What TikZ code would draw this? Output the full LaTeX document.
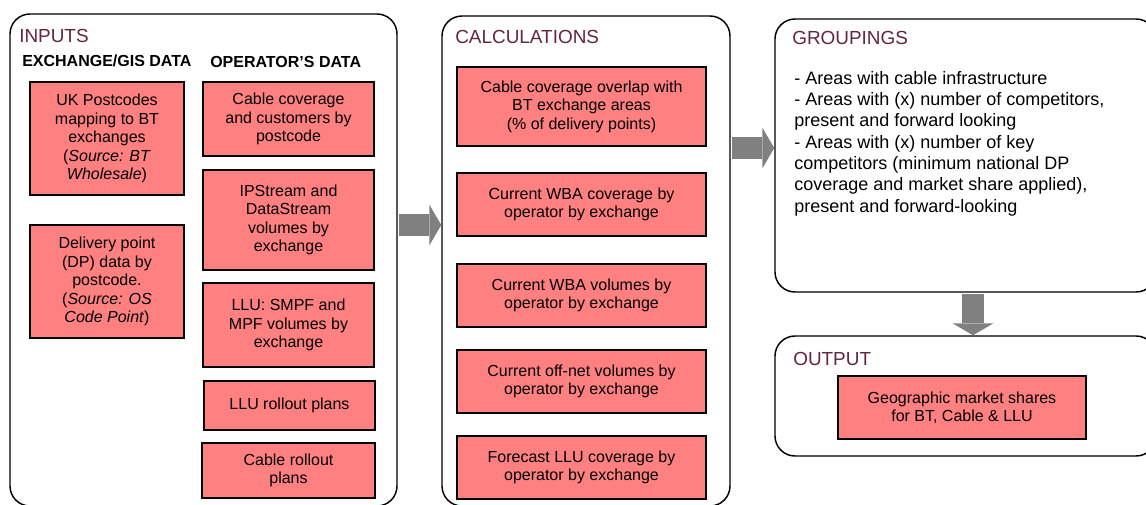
\documentclass[tikz,border=0pt]{standalone}
\usepackage{fontspec}
\setmainfont{Liberation Sans}
\usetikzlibrary{arrows.meta}
\definecolor{boxred}{RGB}{255,128,128}
\definecolor{titlered}{RGB}{99,37,65}
\definecolor{flowgrey}{RGB}{128,128,128}
\tikzset{
  panel/.style={draw=black,line width=1.1pt,rounded corners=15pt,fill=white,inner sep=0pt},
  item/.style={draw=black,line width=1.2pt,fill=boxred,align=center,inner sep=2pt,font=\fontsize{12}{13.8}\selectfont},
  title/.style={anchor=west,inner sep=0pt,text=titlered,font=\fontsize{14.2}{17}\selectfont},
  colhead/.style={anchor=west,inner sep=0pt,font=\fontsize{12}{14}\selectfont\bfseries},
  blockarrow/.style={draw=flowgrey,line width=16.5pt,-{Triangle[width=30.75pt,length=9pt,line width=0pt]}}
}
\begin{document}
\begin{tikzpicture}[x=0.75pt,y=-0.75pt]
\useasboundingbox (0,0) rectangle (1146,504);
% panels
\node[panel,minimum width=290.25pt,minimum height=369pt] (inputs) at (203.5,260) {};
\node[panel,minimum width=216pt,minimum height=367.5pt] (calc) at (586,261) {};
\node[panel,minimum width=285.75pt,minimum height=204.75pt] (group) at (965.5,155.5) {};
\node[panel,minimum width=285.75pt,minimum height=90pt] (output) at (965.5,396) {};
\node[title] (tin) at (19,36) {INPUTS};
\node[title] (tcalc) at (455,37) {CALCULATIONS};
\node[title] (tgroup) at (792,38) {GROUPINGS};
\node[title] (tout) at (793,359) {OUTPUT};
% inputs
\node[colhead] (hgis) at (22,61) {EXCHANGE/GIS DATA};
\node[colhead] (hop) at (210,62) {OPERATOR’S DATA};
\node[item,minimum width=115.5pt,minimum height=84.75pt] (ukpc) at (107,138.5) {UK Postcodes\\mapping to BT\\exchanges\\(\textit{Source: BT}\\\textit{Wholesale})};
\node[item,minimum width=115.5pt,minimum height=84.75pt] (dp) at (107,281.5) {Delivery point\\(DP) data by\\postcode.\\(\textit{Source: OS}\\\textit{Code Point})};
\node[item,minimum width=128.25pt,minimum height=55.5pt] (cable) at (288.5,119) {Cable coverage\\and customers by\\postcode};
\node[item,minimum width=128.25pt,minimum height=75pt] (ipstream) at (288.5,220) {IPStream and\\DataStream\\volumes by\\exchange};
\node[item,minimum width=128.25pt,minimum height=63pt] (llu) at (288.5,325) {LLU: SMPF and\\MPF volumes by\\exchange};
\node[item,minimum width=128.25pt,minimum height=36.75pt] (lluroll) at (289.5,405.5) {LLU rollout plans};
\node[item,minimum width=129.75pt,minimum height=41.25pt] (cableroll) at (288.5,470.5) {Cable rollout\\plans};
% calculations
\node[item,minimum width=186.75pt,minimum height=59.25pt] (overlap) at (581.5,106.5) {Cable coverage overlap with\\BT exchange areas\\(\% of delivery points)};
\node[item,minimum width=186.75pt,minimum height=47.25pt] (wbacov) at (581.5,204.5) {Current WBA coverage by\\operator by exchange};
\node[item,minimum width=186.75pt,minimum height=47.25pt] (wbavol) at (581.5,295.5) {Current WBA volumes by\\operator by exchange};
\node[item,minimum width=186.75pt,minimum height=47.25pt] (offnet) at (581.5,381.5) {Current off-net volumes by\\operator by exchange};
\node[item,minimum width=186.75pt,minimum height=47.25pt] (forecast) at (581.5,467.5) {Forecast LLU coverage by\\operator by exchange};
% groupings and output
\node[anchor=north west,inner sep=0pt,align=left,font=\fontsize{13.5}{16}\selectfont] (glist) at (794,71) {- Areas with cable infrastructure\\- Areas with (x) number of competitors,\\present and forward looking\\- Areas with (x) number of key\\competitors (minimum national DP\\coverage and market share applied),\\present and forward-looking};
\node[item,minimum width=186pt,minimum height=47.25pt] (shares) at (962,407.5) {Geographic market shares\\for BT, Cable \& LLU};
% flow
\coordinate (a1) at (420,225);
\coordinate (a2) at (750,148);
\coordinate (a3) at (973,314);
\draw[blockarrow] ([xshift=0.6pt]inputs.east |- a1) -- (calc.west |- a1);
\draw[blockarrow] ([xshift=0.6pt]calc.east |- a2) -- (group.west |- a2);
\draw[blockarrow] ([yshift=-0.6pt]group.south -| a3) -- (output.north -| a3);
\end{tikzpicture}
\end{document}
